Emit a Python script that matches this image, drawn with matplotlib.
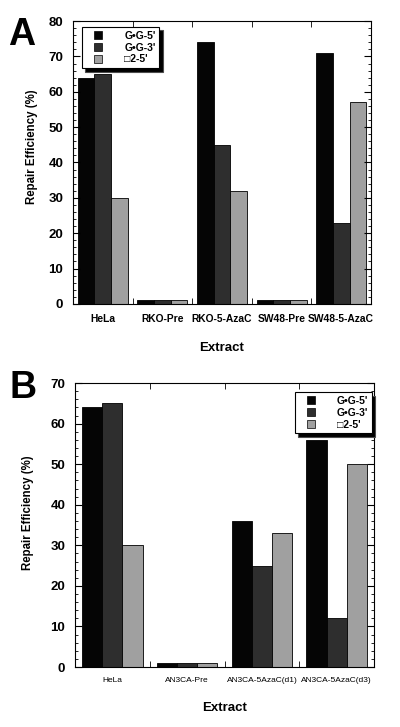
import numpy as np
import matplotlib
matplotlib.use('Agg')
from matplotlib import pyplot as plt
from matplotlib.lines import Line2D
from matplotlib.ticker import MultipleLocator

plt.rcParams['font.family'] = ['Liberation Sans', 'DejaVu Sans']

# panel A data
extracts_a = ['HeLa', 'RKO-Pre', 'RKO-5-AzaC', 'SW48-Pre', 'SW48-5-AzaC']
gg5_a = [64, 1, 74, 1, 71]
gg3_a = [65, 1, 45, 1, 23]
t25_a = [30, 1, 32, 1, 57]

# panel B data
extracts_b = ['HeLa', 'AN3CA-Pre', 'AN3CA-5AzaC(d1)', 'AN3CA-5AzaC(d3)']
gg5_b = [64, 1, 36, 56]
gg3_b = [65, 1, 25, 12]
t25_b = [30, 1, 33, 50]

series_labels = ["G•G-5'", "G•G-3'", "□2-5'"]
colors = ['#050505', '#2e2e2e', '#a0a0a0']

fig = plt.figure(figsize=(4, 7.27), dpi=100)
ax1 = fig.add_axes([0.1825, 0.582, 0.745, 0.389])
ax2 = fig.add_axes([0.1875, 0.0825, 0.7475, 0.3905])


def draw_panel(ax, cats, series, width, ymax, cat_fs, cat_weight, leg_loc,
               leg_anchor, ylab_xy):
    x = np.arange(len(cats))
    for i, vals in enumerate(series):
        ax.bar(x + (i - 1) * width, vals, width, color=colors[i],
               edgecolor='black', linewidth=0.6)
    ax.set_xlim(-0.5, len(cats) - 0.5)
    ax.set_ylim(0, ymax)
    ax.set_xticks(x)
    ax.set_xticklabels(cats, fontsize=cat_fs, fontweight=cat_weight)
    ax.set_xticks(np.arange(len(cats) - 1) + 0.5, minor=True)
    ax.tick_params(axis='x', which='major', length=0, pad=7)
    ax.tick_params(axis='x', which='minor', direction='in', length=4,
                   top=True, bottom=True)
    ax.yaxis.set_major_locator(MultipleLocator(10))
    ax.yaxis.set_minor_locator(MultipleLocator(2))
    ax.tick_params(axis='y', which='major', direction='in', length=5,
                   left=True, right=True, labelsize=9.5, pad=7)
    ax.tick_params(axis='y', which='minor', direction='in', length=2.5,
                   left=True, right=True)
    for lab in ax.get_yticklabels():
        lab.set_fontweight('bold')
    ax.set_ylabel('Repair Efficiency (%)', fontsize=8.3, fontweight='bold')
    ax.yaxis.set_label_coords(*ylab_xy)
    ax.set_xlabel('Extract', fontsize=9.5, fontweight='bold', labelpad=13)
    for sp in ax.spines.values():
        sp.set_linewidth(0.8)
    handles = [Line2D([], [], linestyle='none', marker='s', markersize=5.5,
                      markerfacecolor=c, markeredgecolor='black',
                      markeredgewidth=0.5) for c in colors]
    leg = ax.legend(handles, series_labels, loc=leg_loc,
                    bbox_to_anchor=leg_anchor, borderaxespad=0,
                    frameon=True, fancybox=False,
                    shadow={'ox': 2.5, 'oy': -2.5, 'facecolor': 'black', 'alpha': 1},
                    edgecolor='black', handlelength=2.4,
                    handletextpad=1.3, labelspacing=0.18, borderpad=0.35,
                    prop={'weight': 'bold', 'size': 7.5})
    leg.get_frame().set_linewidth(0.8)


draw_panel(ax1, extracts_a, [gg5_a, gg3_a, t25_a], 0.28, 80, 7.4, 'bold',
           'upper left', (0.030, 0.979), (-0.118, 0.555))
draw_panel(ax2, extracts_b, [gg5_b, gg3_b, t25_b], 0.27, 70, 6.0, 'normal',
           'upper right', (0.993, 0.968), (-0.137, 0.542))

fig.text(0.02, 0.952, 'A', fontsize=27, fontweight='bold', va='center')
fig.text(0.025, 0.466, 'B', fontsize=27, fontweight='bold', va='center')

fig.savefig('out.png', dpi=100)
